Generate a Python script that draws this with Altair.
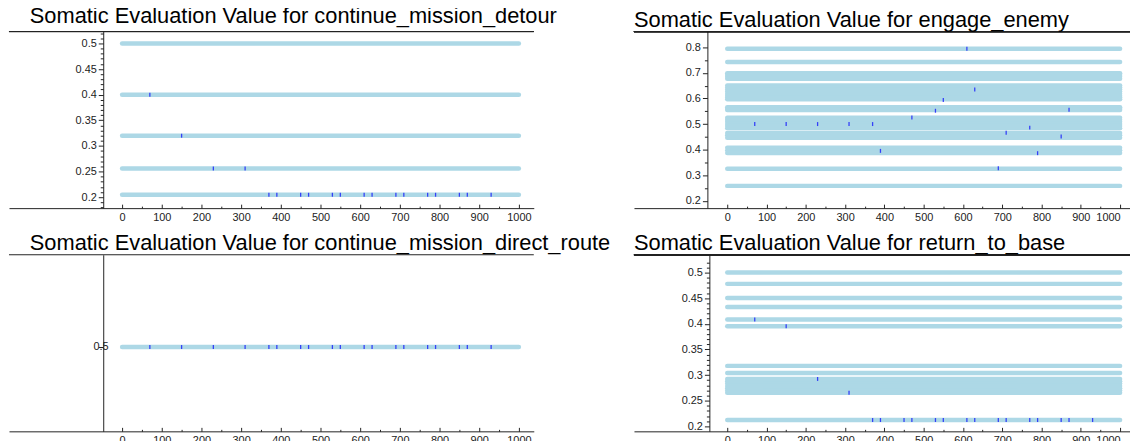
import altair as alt
import pandas as pd

# ---------------- data ----------------
X_TICKS = [0, 50, 100, 150, 200, 250, 300, 350, 400, 450, 500,
           550, 600, 650, 700, 750, 800, 850, 900, 950, 1000]

PTS_X = [70, 150, 230, 310, 370, 390, 450, 470, 530, 550,
         610, 630, 690, 710, 770, 790, 850, 870, 930]

detour_title = "Somatic Evaluation Value for continue_mission_detour"
detour_levels = [0.5, 0.4, 0.32, 0.256, 0.2048]
detour_pts_y = [0.4, 0.32, 0.256, 0.256, 0.2048, 0.2048, 0.2048, 0.2048,
                0.2048, 0.2048, 0.2048, 0.2048, 0.2048, 0.2048, 0.2048,
                0.2048, 0.2048, 0.2048, 0.2048]

engage_title = "Somatic Evaluation Value for engage_enemy"
engage_levels = [0.795, 0.743,
                 0.699, 0.692, 0.685, 0.677,
                 0.651, 0.643, 0.635, 0.627, 0.619, 0.611, 0.604, 0.597,
                 0.566, 0.560, 0.555,
                 0.525, 0.517, 0.509, 0.500, 0.492, 0.484,
                 0.465, 0.456, 0.446,
                 0.407, 0.397, 0.387,
                 0.325, 0.258]
engage_pts_x = [70, 150, 230, 310, 370, 390, 470, 530, 550, 610,
                630, 690, 710, 770, 790, 850, 870]
engage_pts_y = [0.5, 0.5, 0.5, 0.5, 0.5, 0.395, 0.526, 0.552, 0.594, 0.795,
                0.635, 0.327, 0.466, 0.486, 0.386, 0.451, 0.556]

direct_title = "Somatic Evaluation Value for continue_mission_direct_route"
direct_levels = [0.5]
direct_pts_y = [0.5] * 19

rtb_title = "Somatic Evaluation Value for return_to_base"
rtb_levels = [0.5, 0.478, 0.4505, 0.433, 0.4085, 0.3955, 0.318, 0.304,
              0.2925, 0.288, 0.2835, 0.279, 0.2745, 0.27, 0.2656, 0.2124]
rtb_pts_y = [0.4085, 0.3955, 0.2925, 0.2656, 0.2124, 0.2124, 0.2124, 0.2124,
             0.2124, 0.2124, 0.2124, 0.2124, 0.2124, 0.2124, 0.2124,
             0.2124, 0.2124, 0.2124, 0.2124]

Y_TICKS_A = [round(0.01 * i, 2) for i in range(18, 53)]     # detour / return_to_base
Y_TICKS_B = [round(0.05 * i, 2) for i in range(4, 17)]      # engage_enemy
Y_TICKS_C = [0.5]                                           # direct_route

# ---------------- styling ----------------
LINE_COLOR = "#add8e6"
PT_COLOR = "#0000ff"
AX_COLOR = "#222222"
FONT = "Liberation Sans"


def panel(title, levels, pts_x, pts_y, xdom, ydom, w, h, yvals, ystep,
          yoff, title_dx, ylab_pad=2, right_col=False):
    lines_df = pd.DataFrame({"lvl": levels, "x0": [0] * len(levels),
                             "x1": [1000] * len(levels)})
    pts_df = pd.DataFrame({"x": pts_x, "y": pts_y})

    xscale = alt.Scale(domain=xdom, nice=False, zero=False)
    yscale = alt.Scale(domain=ydom, nice=False, zero=False)

    xaxis_kw = dict(
        title=None, values=X_TICKS, orient="bottom", grid=False,
        domainColor=AX_COLOR, domainWidth=1, tickColor=AX_COLOR, tickWidth=1,
        tickSize={"condition": {"test": "datum.value % 100 === 0", "value": -4}, "value": -2},
        labelExpr="datum.value % 100 === 0 ? format(datum.value, 'd') : ''",
        labelPadding=7, labelFont=FONT, labelFontSize=11, labelColor=AX_COLOR,
        labelFlush=False, labelOverlap=False, labelBaseline="top",
    )
    if right_col:
        xaxis_kw["labelAlign"] = {"condition": {"test": "datum.value === 1000",
                                                "value": "right"}, "value": "center"}
    xaxis = alt.Axis(**xaxis_kw)
    major = f"abs(datum.value/{ystep} - round(datum.value/{ystep})) < 0.001"
    yaxis = alt.Axis(
        title=None, values=yvals, orient="left", offset=-yoff, grid=False,
        domainColor=AX_COLOR, domainWidth=1, tickColor=AX_COLOR, tickWidth=1,
        tickSize={"condition": {"test": major, "value": 5}, "value": 3},
        labelExpr=f"{major} ? format(datum.value, '~g') : ''",
        labelPadding=ylab_pad, labelFont=FONT, labelFontSize=11,
        labelColor=AX_COLOR, labelFlush=False, labelOverlap=False,
        labelBaseline="middle",
    )

    lines = alt.Chart(lines_df).mark_rule(
        color=LINE_COLOR, strokeWidth=4.5, strokeCap="round"
    ).encode(
        x=alt.X("x0:Q", scale=xscale, axis=xaxis),
        x2="x1:Q",
        y=alt.Y("lvl:Q", scale=yscale, axis=yaxis),
    )
    pts = alt.Chart(pts_df).mark_tick(
        orient="vertical", size=4, thickness=1.3, color=PT_COLOR
    ).encode(
        x=alt.X("x:Q", scale=xscale, axis=xaxis),
        y=alt.Y("y:Q", scale=yscale, axis=yaxis),
    )
    frame = alt.Chart(lines_df).mark_rule(color=AX_COLOR, strokeWidth=1).encode(
        y=alt.value(0)
    )
    return alt.layer(lines, pts, frame).properties(
        width=w, height=h,
        title=alt.TitleParams(
            text=title, anchor="start", frame="group", dx=title_dx,
            offset=-18, font=FONT, fontSize=22, fontWeight="normal",
            color="black", baseline="alphabetic",
        ),
    )


tl = panel(detour_title, detour_levels, PTS_X, detour_pts_y,
           [-285, 1037.5], [0.1787, 0.5232], 529, 178,
           Y_TICKS_A, 0.05, 95, 21)
tr = panel(engage_title, engage_levels, engage_pts_x, engage_pts_y,
           [-237.4, 1025.2], [0.1709, 0.8621], 500, 178,
           Y_TICKS_B, 0.1, 74, 0, right_col=True)
bl = panel(direct_title, direct_levels, PTS_X, direct_pts_y,
           [-285, 1037.5], [0.4045, 0.6045], 529, 178,
           Y_TICKS_C, 0.5, 95, 21, ylab_pad=-10)
br = panel(rtb_title, rtb_levels, PTS_X, rtb_pts_y,
           [-237.4, 1025.2], [0.1903, 0.5348], 500, 178,
           Y_TICKS_A, 0.05, 76, 0, right_col=True)

chart = alt.concat(
    tl, tr, bl, br, columns=2, spacing={"row": 47, "column": 101},
    bounds="flush",
).properties(
    padding={"top": -5, "left": 0, "right": -1, "bottom": -8},
    background="white",
).configure_view(stroke=None)

chart.save("out.html", embed_options={"renderer": "svg", "actions": False})
